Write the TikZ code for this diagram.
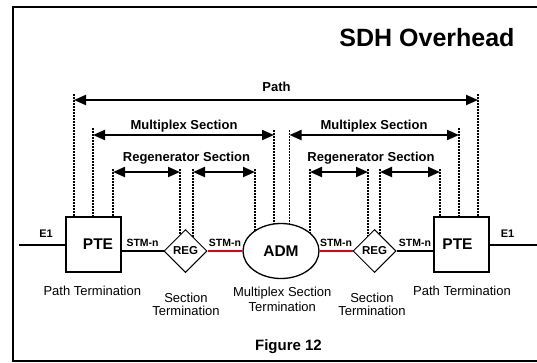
\documentclass[tikz,border=0pt]{standalone}
\usepackage{fontspec}
\setmainfont{Liberation Sans}
\usetikzlibrary{arrows.meta,shapes.geometric,backgrounds}

\definecolor{linkred}{RGB}{228,0,27}

\begin{document}
\begin{tikzpicture}[x=1pt,y=-1pt,
  frame/.style={line width=1.8pt},
  span/.style={line width=2pt,
    {Triangle[length=12pt,width=10pt]}-{Triangle[length=12pt,width=10pt]}},
  dots/.style={line width=1.3pt,dash pattern=on 1.5pt off 1.5pt},
  link/.style={line width=2pt},
  redlink/.style={link,draw=linkred},
  hdr/.style={font=\fontsize{13}{15}\selectfont\bfseries,inner sep=0pt,anchor=base},
  caption/.style={font=\fontsize{13}{15}\selectfont,inner sep=0pt},
  stm/.style={font=\fontsize{10.5}{12}\selectfont\bfseries,inner sep=1pt},
  ebox/.style={draw,line width=1.3pt,fill=white,minimum width=55pt,
    minimum height=55pt,inner sep=0pt,font=\fontsize{15.5}{18}\selectfont\bfseries},
  regnode/.style={diamond,draw,line width=1pt,fill=white,minimum width=43pt,
    minimum height=43pt,inner sep=0pt,font=\fontsize{11.5}{13}\selectfont\bfseries},
  admnode/.style={ellipse,draw,line width=1.3pt,fill=white,minimum width=76pt,
    minimum height=55pt,inner sep=0pt,font=\fontsize{15.5}{18}\selectfont\bfseries}]

\useasboundingbox (0,0) rectangle (537,362);

% outer frame (open on the right)
\draw[frame] (537,7.3) -- (13,7.3) -- (13,360.7) -- (537,360.7);

\node[font=\fontsize{25}{28}\selectfont\bfseries,inner sep=0pt,anchor=base]
  (title) at (427,46) {SDH Overhead};

% network elements
\node[ebox]    (pteL) at (93.5,244.5) {\hspace*{9pt}PTE};
\node[regnode] (regL) at (185.5,251) {REG};
\node[admnode] (adm)  at (281,251) {ADM};
\node[regnode] (regR) at (374.5,251) {REG};
\node[ebox]    (pteR) at (461.5,244.5) {PTE\hspace*{8pt}};

% span end points
\coordinate (pa1) at (74,100);
\coordinate (pa2) at (478,100);
\coordinate (ma1) at (93,135);
\coordinate (ma2) at (274,135);
\coordinate (mb1) at (289.5,135);
\coordinate (mb2) at (459,135);
\coordinate (ra1) at (113,172);
\coordinate (ra2) at (180,172);
\coordinate (rb1) at (193,172);
\coordinate (rb2) at (255,172);
\coordinate (rc1) at (310,172);
\coordinate (rc2) at (368,172);
\coordinate (rd1) at (380,172);
\coordinate (rd2) at (440,172);

% dotted drop lines, hidden behind the filled elements
\begin{pgfonlayer}{background}
  \fill[white] (0,0) rectangle (537,362);
  \draw[dots] ([yshift=6pt]pa1) -- (pa1 |- pteL.center);
  \draw[dots] ([yshift=6pt]pa2) -- (pa2 |- pteR.center);
  \draw[dots] ([yshift=7pt]ma1) -- (ma1 |- pteL.center);
  \draw[dots] ([yshift=5pt]ma2) -- (ma2 |- adm.center);
  \draw[dots] ([yshift=5pt]mb1) -- (mb1 |- adm.center);
  \draw[dots] ([yshift=7pt]mb2) -- (mb2 |- pteR.center);
  \draw[dots] ([yshift=3pt]ra1) -- (ra1 |- pteL.center);
  \draw[dots] ([yshift=3pt]ra2) -- (ra2 |- regL.center);
  \draw[dots] ([yshift=3pt]rb1) -- (rb1 |- regL.center);
  \draw[dots] ([yshift=3pt]rb2) -- (rb2 |- adm.center);
  \draw[dots] ([yshift=3pt]rc1) -- (rc1 |- adm.center);
  \draw[dots] ([yshift=3pt]rc2) -- (rc2 |- regR.center);
  \draw[dots] ([yshift=3pt]rd1) -- (rd1 |- regR.center);
  \draw[dots] ([yshift=3pt]rd2) -- (rd2 |- pteR.center);
\end{pgfonlayer}

% span arrows
\draw[span] (pa1) -- (pa2);
\draw[span] (ma1) -- (ma2);
\draw[span] (mb1) -- (mb2);
\draw[span] (ra1) -- (ra2);
\draw[span] (rb1) -- (rb2);
\draw[span] (rc1) -- (rc2);
\draw[span] (rd1) -- (rd2);

\node[hdr] (lPath) at (276.5,91.7) {Path};
\node[hdr] (lMsL) at (184,129.7) {Multiplex Section};
\node[hdr] (lMsR) at (374,129.7) {Multiplex Section};
\node[hdr] (lRsL) at (186.5,161.7) {Regenerator Section};
\node[hdr] (lRsR) at (371,161.7) {Regenerator Section};

% tributary and line connections
\coordinate (e1L) at (19,244.5);
\coordinate (e1R) at (537,244.5);
\draw[link] (e1L) -- (pteL.west);
\draw[link] (pteR.east) -- (e1R);
\node[font=\fontsize{11}{13}\selectfont\bfseries,inner sep=0pt,anchor=base]
  (tE1L) at (46,237.3) {E1};
\node[font=\fontsize{11}{13}\selectfont\bfseries,inner sep=0pt,anchor=base]
  (tE1R) at (507.5,237.3) {E1};

\draw[link] (pteL.east |- regL.west) -- (regL.west)
  node[stm,midway,above=2pt] {STM-n};
\draw[redlink] (regL.east) -- (adm.west)
  node[stm,midway,above=2pt,text=black] {STM-n};
\draw[redlink] (adm.east) -- (regR.west)
  node[stm,midway,above=2pt,text=black] {STM-n};
\draw[link] (regR.east) -- (regR.east -| pteR.west)
  node[stm,midway,above=2pt] {STM-n};

% element captions
\node[caption,anchor=base] (cPteL) at (92.3,295) {Path Termination};
\node[caption,anchor=base] (cPteR) at (462,295) {Path Termination};
\node[caption,anchor=north,align=center,font=\fontsize{13}{13.3}\selectfont]
  (cRegL) at (186,293) {Section\\Termination};
\node[caption,anchor=north,align=center,font=\fontsize{13}{13.3}\selectfont]
  (cRegR) at (372,293) {Section\\Termination};
\node[caption,anchor=north,align=center,font=\fontsize{13}{14.7}\selectfont]
  (cAdm) at (282.3,287) {Multiplex Section\\Termination};

\node[font=\fontsize{15}{17}\selectfont\bfseries,inner sep=0pt,anchor=base]
  (fig) at (288.5,350) {Figure 12};

\end{tikzpicture}
\end{document}
